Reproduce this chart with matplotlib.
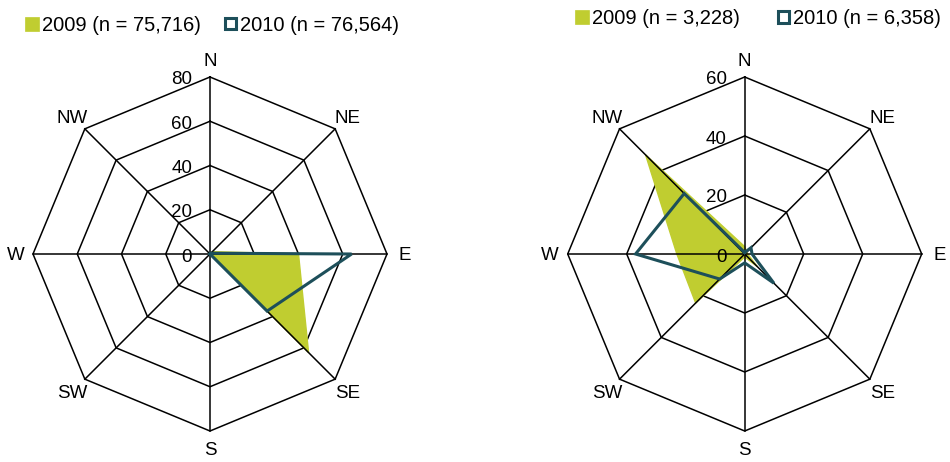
import numpy as np
import matplotlib
matplotlib.use("Agg")
import matplotlib.pyplot as plt
from matplotlib.patches import Rectangle
from matplotlib.transforms import ScaledTranslation

plt.rcParams['font.family'] = ['Liberation Sans', 'DejaVu Sans']

YELLOW = '#C0CD30'
TEAL = '#1D4F5A'

directions = ['N', 'NE', 'E', 'SE', 'S', 'SW', 'W', 'NW']

# left panel
left_2009 = [0, 1.5, 40, 63, 0, 0, 0, 0]
left_2010 = [0, 0.5, 64, 36.5, 0, 0, 0, 0]
left_labels = ['2009 (n = 75,716)', '2010 (n = 76,564)']
left_ticks = [0, 20, 40, 60, 80]

# right panel
right_2009 = [2.5, 1, 1, 6, 1, 23.5, 23, 47.5]
right_2010 = [0.5, 3, 2.5, 14, 3, 12, 37, 29]
right_labels = ['2009 (n = 3,228)', '2010 (n = 6,358)']
right_ticks = [0, 20, 40, 60]

W, H = 950, 462
fig = plt.figure(figsize=(9.5, 4.62), dpi=100)
R = 177


def px_box(cx, cy, r):
    # pixel centre (top origin) -> figure fraction box
    return [(cx - r) / W, (H - cy - r) / H, 2 * r / W, 2 * r / H]


def radar(box, s2009, s2010, ticks):
    ax = fig.add_axes(box, projection='polar')
    ax.set_theta_zero_location('N')
    ax.set_theta_direction(-1)
    rmax = ticks[-1]
    ax.set_ylim(0, rmax)
    ax.grid(False)
    ax.set_xticks([])
    ax.set_yticks([])
    ax.spines['polar'].set_visible(False)
    ax.patch.set_visible(False)

    theta = np.deg2rad(np.arange(len(directions)) * 45.0)
    tc = np.append(theta, theta[0])

    # rings under the fill
    for t in ticks[1:]:
        ax.plot(tc, [t] * len(tc), color='black', lw=1.1, clip_on=False, zorder=1)

    v09 = np.append(s2009, s2009[0])
    ax.fill(tc, v09, color=YELLOW, lw=1, zorder=2)

    # spokes over the fill
    for th in theta:
        ax.plot([th, th], [0, rmax], color='black', lw=1.1, clip_on=False, zorder=3)

    v10 = np.append(s2010, s2010[0])
    ax.plot(tc, v10, color=TEAL, lw=2.2, solid_joinstyle='miter', zorder=4)

    off = ScaledTranslation(-18 / 100, -1 / 100, fig.dpi_scale_trans)
    for t in ticks:
        ax.text(0, t, str(t), transform=ax.transData + off, ha='right',
                va='center_baseline', fontsize=13.5, zorder=5)
    for th, d in zip(theta, directions):
        ax.text(th, rmax * 1.1, d, ha='center', va='center_baseline',
                fontsize=13.5, clip_on=False)
    return ax


def legend(items):
    for (x, y, s, filled), txt in items:
        if filled:
            rect = Rectangle((x / W, 1 - (y + s / 2) / H), s / W, s / H,
                             transform=fig.transFigure, fc=YELLOW, ec=YELLOW, lw=0.5)
            tx = x + s + 3
        else:
            rect = Rectangle((x / W, 1 - (y + s / 2) / H), s / W, s / H,
                             transform=fig.transFigure, fc='white', ec=TEAL, lw=2.2)
            tx = x + s + 4
        fig.add_artist(rect)
        fig.text(tx / W, 1 - y / H, txt, ha='left', va='center_baseline',
                 fontsize=14.5)


radar(px_box(210, 254, R), left_2009, left_2010, left_ticks)
radar(px_box(744.7, 254, R), right_2009, right_2010, right_ticks)

legend([((25, 23.5, 14, True), left_labels[0]),
        ((225, 23.5, 11, False), left_labels[1])])
legend([((574.5, 17, 14, True), right_labels[0]),
        ((778, 17, 11, False), right_labels[1])])

fig.savefig('out.png', dpi=100)
